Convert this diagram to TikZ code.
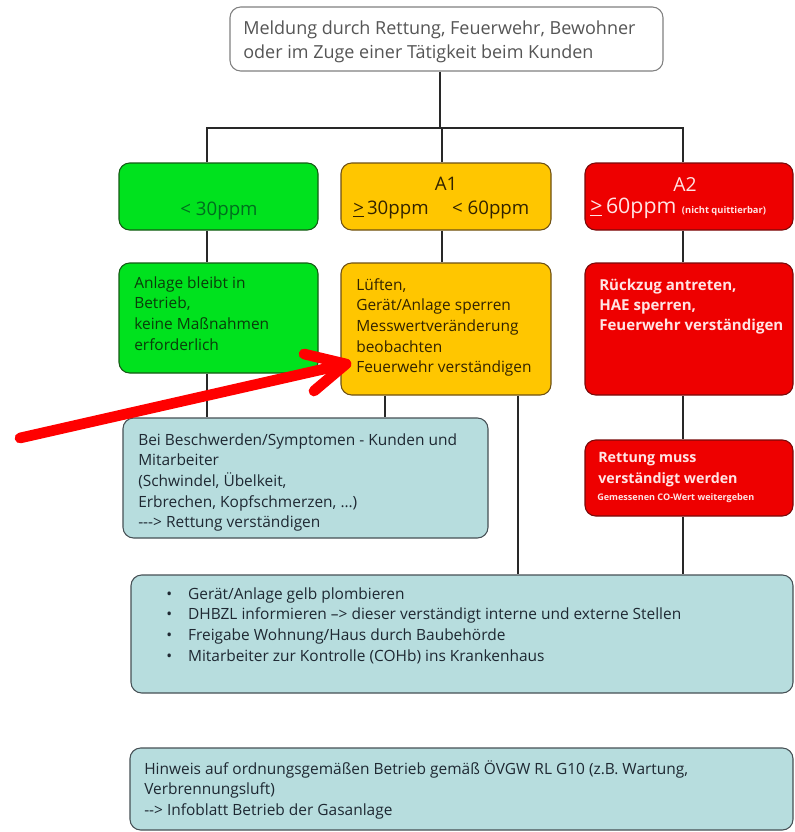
\documentclass[tikz,border=0pt]{standalone}
\usepackage{fontspec}
\setmainfont{Open Sans}
\usetikzlibrary{fit}
\definecolor{cgreen}{RGB}{0,226,30}
\definecolor{cgreenb}{RGB}{20,90,20}
\definecolor{cgreent}{RGB}{10,60,10}
\definecolor{cgreenh}{RGB}{0,110,30}
\definecolor{cyellow}{RGB}{255,198,0}
\definecolor{cyellowb}{RGB}{110,80,20}
\definecolor{cyellowt}{RGB}{50,35,0}
\definecolor{cred}{RGB}{238,0,0}
\definecolor{credb}{RGB}{120,10,10}
\definecolor{credt}{RGB}{255,228,228}
\definecolor{cblue}{RGB}{183,221,222}
\definecolor{cblueb}{RGB}{70,80,85}
\definecolor{cbluet}{RGB}{30,40,50}
\definecolor{cgrayt}{RGB}{85,85,85}
\definecolor{cline}{RGB}{40,40,40}
\tikzset{
  box/.style={draw=#1, rounded corners=8pt, inner sep=0pt, line width=0.8pt},
  conn/.style={draw=cline, line width=0.9pt},
  txt/.style={inner sep=0pt, align=left, anchor=north west,
    font=\fontsize{11.6}{15.5}\selectfont},
  redarrow/.style={draw=red, line width=8pt, line cap=round, line join=round}
}
\begin{document}
\begin{tikzpicture}[x=0.75pt,y=-0.75pt]
\useasboundingbox[fill=white] (0,0) rectangle (794,832);

% boxes
\node[box=gray, fill=white, fit={(230,7)(663,71)}] (top) {};
\node[box=cgreenb, fill=cgreen, fit={(119,163)(318,230)}] (g1) {};
\node[box=cyellowb, fill=cyellow, fit={(341,163)(551,230)}] (y1) {};
\node[box=credb, fill=cred, fit={(585,163)(793,230)}] (r1) {};
\node[box=cgreenb, fill=cgreen, fit={(119,263)(318,373)}] (g2) {};
\node[box=cyellowb, fill=cyellow, fit={(341,263)(551,395)}] (y2) {};
\node[box=credb, fill=cred, fit={(585,263)(793,395)}] (r2) {};
\node[box=cblueb, fill=cblue, fit={(123,418)(488,538)}] (bes) {};
\node[box=credb, fill=cred, fit={(585,440)(793,516)}] (r3) {};
\node[box=cblueb, fill=cblue, fit={(131,575)(793,693)}] (big) {};
\node[box=cblueb, fill=cblue, fit={(130,748)(793,830)}] (hin) {};

% connectors
\coordinate (jt) at (440,128);
\coordinate (xg) at (207,128);
\coordinate (xy) at (442,128);
\coordinate (xr) at (683,128);
\coordinate (xa) at (385,0);
\coordinate (xb) at (518,0);
\draw[conn] (top.south -| jt) -- (jt);
\draw[conn] (g1.north -| xg) -- (xg) -- (xr) -- (r1.north -| xr);
\draw[conn] (xy) -- (y1.north -| xy);
\draw[conn] (g1.south -| xg) -- (g2.north -| xg);
\draw[conn] (y1.south -| xy) -- (y2.north -| xy);
\draw[conn] (r1.south -| xr) -- (r2.north -| xr);
\draw[conn] (g2.south -| xg) -- (bes.north -| xg);
\draw[conn] (y2.south -| xa) -- (bes.north -| xa);
\draw[conn] (y2.south -| xb) -- (big.north -| xb);
\draw[conn] (r2.south -| xr) -- (r3.north -| xr);
\draw[conn] (r3.south -| xr) -- (big.north -| xr);

% texts
\node[txt, text=cgrayt, font=\fontsize{13.5}{18}\selectfont] (ttop) at (243,21)
  {Meldung durch Rettung, Feuerwehr, Bewohner\\oder im Zuge einer Tätigkeit beim Kunden};
\node[inner sep=0pt, anchor=base, text=cgreenh, font=\fontsize{14}{16}\selectfont] (tg1) at (219,215) {< 30ppm};
\node[inner sep=0pt, anchor=base, text=cyellowt, font=\fontsize{14}{16}\selectfont] (ty1a) at (446,190) {A1};
\node[inner sep=0pt, anchor=base west, text=cyellowt, font=\fontsize{14}{16}\selectfont] (ty1b) at (353,214) {\underline{>}\,30ppm\quad\ < 60ppm};
\node[inner sep=0pt, anchor=base, text=credt, font=\fontsize{14.5}{16}\selectfont] (tr1a) at (685,191) {A2};
\node[inner sep=0pt, anchor=base west, text=credt] (tr1b) at (590,213)
  {\fontsize{16}{18}\selectfont\underline{>}\,60ppm \fontsize{7}{8}\selectfont\bfseries (nicht quittierbar)};
\node[txt, text=cgreent] (tg2) at (134,276)
  {Anlage bleibt in\\Betrieb,\\keine Maßnahmen\\erforderlich};
\node[txt, text=cyellowt] (ty2) at (356,278)
  {Lüften,\\Gerät/Anlage sperren\\Messwertveränderung\\beobachten\\Feuerwehr verständigen};
\node[txt, text=credt, font=\fontsize{11.3}{15}\selectfont\bfseries] (tr2) at (599,279)
  {Rückzug antreten,\\HAE sperren,\\Feuerwehr verständigen};
\node[txt, text=cbluet] (tbes) at (138,433)
  {Bei Beschwerden/Symptomen - Kunden und\\Mitarbeiter\\(Schwindel, Übelkeit,\\Erbrechen, Kopfschmerzen, …)\\{-}{-}{-}> Rettung verständigen};
\node[txt, text=credt, font=\fontsize{10.7}{15.5}\selectfont\bfseries] (tr3) at (598,452)
  {Rettung muss\\verständigt werden};
\node[inner sep=0pt, anchor=base west, text=credt, font=\fontsize{6.8}{8}\selectfont\bfseries] (tr3b) at (597,500)
  {Gemessenen CO-Wert weitergeben};
\node[txt, text=cbluet] (tbig) at (166,587)
  {•\hspace{12pt}Gerät/Anlage gelb plombieren\\
   •\hspace{12pt}DHBZL informieren –> dieser verständigt interne und externe Stellen\\
   •\hspace{12pt}Freigabe Wohnung/Haus durch Baubehörde\\
   •\hspace{12pt}Mitarbeiter zur Kontrolle (COHb) ins Krankenhaus};
\node[txt, text=cbluet] (thin) at (144,760)
  {Hinweis auf ordnungsgemäßen Betrieb gemäß ÖVGW RL G10 (z.B. Wartung,\\Verbrennungsluft)\\{-}{-}> Infoblatt Betrieb der Gasanlage};

% red arrow
\coordinate (atail) at (20,438);
\coordinate (atip) at (346,364);
\coordinate (aw1) at (304,354);
\coordinate (aw2) at (314,391);
\draw[redarrow] (atail) -- (atip);
\draw[redarrow] (aw1) -- (atip) -- (aw2);
\end{tikzpicture}
\end{document}
